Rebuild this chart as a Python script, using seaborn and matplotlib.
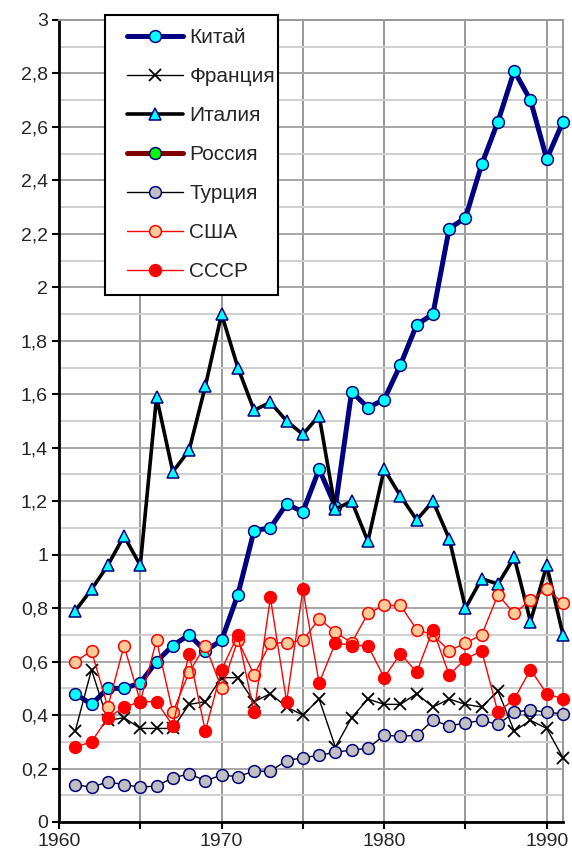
"""
Динамика показателей по странам, 1961-1991 (воспроизведение графика).
"""

import numpy as np
import matplotlib
matplotlib.use("Agg")
import matplotlib.pyplot as plt
from matplotlib.patches import Rectangle
from matplotlib.ticker import MultipleLocator, FuncFormatter
import seaborn as sns

# ---------------------------------------------------------------------------
# Данные
# ---------------------------------------------------------------------------
years = list(range(1961, 1992))

china = [0.48, 0.44, 0.50, 0.50, 0.52, 0.60, 0.66, 0.70, 0.64, 0.68,
         0.85, 1.09, 1.10, 1.19, 1.16, 1.32, 1.18, 1.61, 1.55, 1.58,
         1.71, 1.86, 1.90, 2.22, 2.26, 2.46, 2.62, 2.81, 2.70, 2.48, 2.62]

france = [0.34, 0.57, 0.38, 0.39, 0.35, 0.35, 0.35, 0.44, 0.45, 0.54,
          0.54, 0.45, 0.48, 0.43, 0.40, 0.46, 0.28, 0.39, 0.46, 0.44,
          0.44, 0.48, 0.43, 0.46, 0.44, 0.43, 0.49, 0.34, 0.38, 0.35, 0.24]

italy = [0.79, 0.87, 0.96, 1.07, 0.96, 1.59, 1.31, 1.39, 1.63, 1.90,
         1.70, 1.54, 1.57, 1.50, 1.45, 1.52, 1.17, 1.20, 1.05, 1.32,
         1.22, 1.13, 1.20, 1.06, 0.80, 0.91, 0.89, 0.99, 0.75, 0.96, 0.70]

russia = [np.nan] * len(years)

turkey = [0.14, 0.13, 0.15, 0.14, 0.13, 0.135, 0.165, 0.18, 0.155, 0.175,
          0.17, 0.19, 0.19, 0.23, 0.24, 0.25, 0.26, 0.27, 0.275, 0.325,
          0.32, 0.325, 0.38, 0.36, 0.37, 0.38, 0.365, 0.41, 0.42, 0.41, 0.405]

usa = [0.60, 0.64, 0.43, 0.66, 0.45, 0.68, 0.41, 0.56, 0.66, 0.50,
       0.68, 0.55, 0.67, 0.67, 0.68, 0.76, 0.71, 0.67, 0.78, 0.81,
       0.81, 0.72, 0.70, 0.64, 0.67, 0.70, 0.85, 0.78, 0.83, 0.87, 0.82]

ussr = [0.28, 0.30, 0.39, 0.43, 0.45, 0.45, 0.36, 0.63, 0.34, 0.57,
        0.70, 0.41, 0.84, 0.45, 0.87, 0.52, 0.67, 0.66, 0.66, 0.54,
        0.63, 0.56, 0.72, 0.55, 0.61, 0.64, 0.41, 0.46, 0.57, 0.48, 0.46]

series_names = ["Китай", "Франция", "Италия", "Россия", "Турция", "США", "СССР"]
series_values = [china, france, italy, russia, turkey, usa, ussr]

x_ticks = [1960, 1970, 1980, 1990]

# стиль каждой серии (как в Excel)
styles = {
    "Китай":   dict(color="#000080", lw=3.6, marker="o", mfc="#00FFFF", mec="#000080", ms=8.5, mew=1.1),
    "Франция": dict(color="black", lw=1.0, marker="x", mfc="black", mec="black", ms=8, mew=1.3),
    "Италия":  dict(color="black", lw=2.6, marker="^", mfc="#00FFFF", mec="#000080", ms=8.5, mew=1.1),
    "Россия":  dict(color="#800000", lw=3.6, marker="o", mfc="#00FF00", mec="#000080", ms=8.5, mew=1.1),
    "Турция":  dict(color="black", lw=1.0, marker="o", mfc="#C0C0C0", mec="#000080", ms=8.5, mew=1.1),
    "США":     dict(color="#FF0000", lw=1.0, marker="o", mfc="#FFCC99", mec="#FF0000", ms=8.5, mew=1.1),
    "СССР":    dict(color="#FF0000", lw=1.0, marker="o", mfc="#FF0000", mec="#FF0000", ms=8.5, mew=1.1),
}

# ---------------------------------------------------------------------------
# Рисунок
# ---------------------------------------------------------------------------
sns.set_style("white")
plt.rcParams["font.family"] = ["Liberation Sans", "DejaVu Sans"]

W, H = 572, 859
fig = plt.figure(figsize=(W / 100, H / 100), dpi=100)
ax = fig.add_axes([59 / W, 1 - 822 / H, 504 / W, 802 / H])

handles = []
for i, (name, vals) in enumerate(zip(series_names, series_values)):
    st = styles[name]
    if np.all(np.isnan(vals)):
        # серия без данных — только в легенде
        line, = ax.plot([], [], color=st["color"], lw=st["lw"], marker=st["marker"],
                        markerfacecolor=st["mfc"], markeredgecolor=st["mec"],
                        markersize=st["ms"], markeredgewidth=st["mew"])
    else:
        sns.lineplot(x=years, y=vals, ax=ax, color=st["color"], linewidth=st["lw"],
                     marker=st["marker"], markerfacecolor=st["mfc"],
                     markeredgecolor=st["mec"], markersize=st["ms"],
                     markeredgewidth=st["mew"], clip_on=False, zorder=3 + i)
        line = ax.lines[-1]
    handles.append(line)

ax.set_xlim(1960, 1991)
ax.set_ylim(0, 3)

# сетка
ax.xaxis.set_major_locator(MultipleLocator(5))
ax.yaxis.set_major_locator(MultipleLocator(0.2))
ax.yaxis.set_minor_locator(MultipleLocator(0.1))
ax.grid(axis="x", which="major", color="#999999", lw=1.4)
ax.grid(axis="y", which="major", color="#A6A6A6", lw=1.4)
ax.grid(axis="y", which="minor", color="#CFCFCF", lw=1.4)
ax.set_axisbelow(True)

ax.xaxis.set_major_formatter(FuncFormatter(lambda v, p: f"{int(v)}" if int(v) in x_ticks else ""))
ax.yaxis.set_major_formatter(FuncFormatter(lambda v, p: f"{v:g}".replace(".", ",")))
ax.tick_params(axis="both", which="major", direction="out", length=5, width=1.5,
               color="black", labelsize=14, pad=3, bottom=True, left=True)
ax.tick_params(axis="y", which="minor", length=0)

for side in ("left", "bottom"):
    ax.spines[side].set_color("black")
    ax.spines[side].set_linewidth(2)
for side in ("top", "right"):
    ax.spines[side].set_color("#999999")
    ax.spines[side].set_linewidth(1.4)

ax.set_xlabel("")
ax.set_ylabel("")

# рамка легенды (как в Excel: текст почти у правого края)
frame = Rectangle((105 / W, 1 - 295 / H), (278 - 105) / W, (295 - 15) / H,
                  transform=fig.transFigure, facecolor="white", edgecolor="black",
                  linewidth=1.5, zorder=4)
fig.add_artist(frame)

leg = fig.legend(handles, series_names, loc="upper left",
                 bbox_to_anchor=(127 / W, 1 - 28 / H), fontsize=15,
                 frameon=False, handlelength=2.7, handletextpad=0.3,
                 labelspacing=0.96, borderpad=0, borderaxespad=0)
leg.set_zorder(5)

fig.savefig("out.png", dpi=100)
